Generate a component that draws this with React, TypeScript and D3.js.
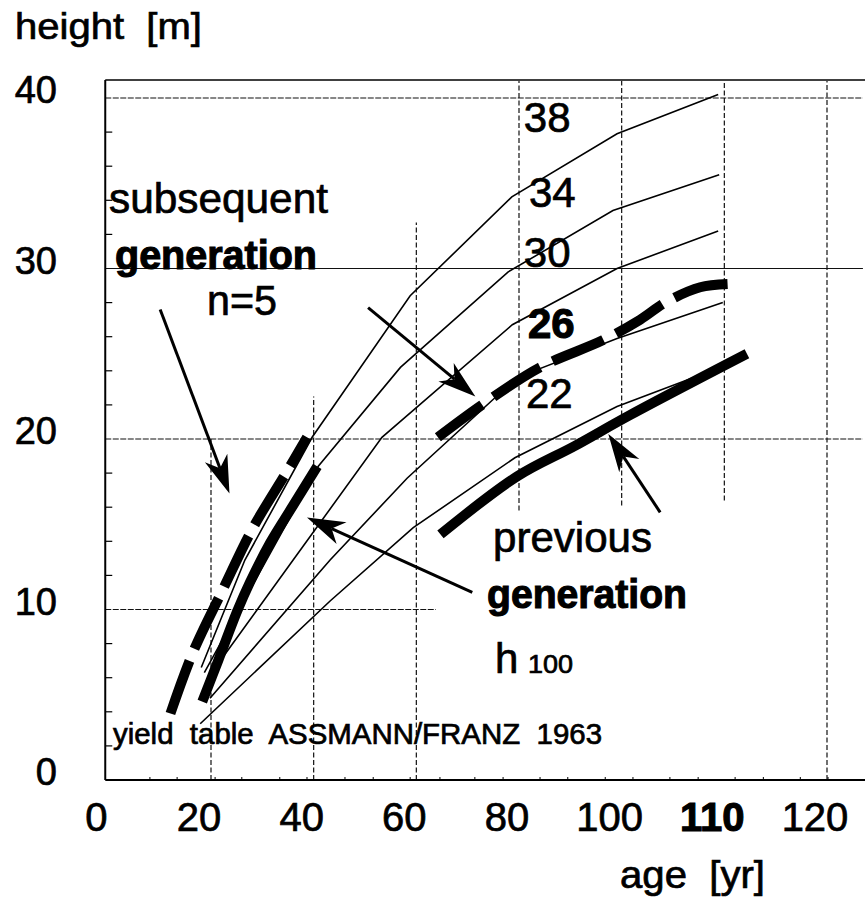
import React from "react";
import * as d3 from "d3";

// ---- data (age [yr], height [m]) ----
const SI38: [number, number][] = [[18.1, 6.6], [26.6, 12.9], [39.7, 20.1], [58.8, 28.4], [78.6, 34.2], [99.1, 37.9], [118.8, 40.2]];
const SI34: [number, number][] = [[18.7, 6.3], [40.9, 18.4], [56.9, 24.2], [77.9, 29.8], [98.3, 33.4], [119.0, 35.5]];
const SI30: [number, number][] = [[19.2, 5.9], [22.3, 7.2], [36.0, 12.9], [53.3, 20.1], [78.7, 26.7], [99.1, 30.0], [118.8, 32.2]];
const SI26: [number, number][] = [[19.8, 4.8], [43.2, 12.9], [58.2, 17.7], [79.6, 23.6], [99.1, 25.9], [119.7, 28.0]];
const SI22: [number, number][] = [[17.9, 3.3], [43.2, 10.5], [59.4, 14.8], [79.2, 18.9], [99.1, 21.9], [119.2, 24.2]];

const SUBSEQ_YOUNG: [number, number][] = [[12.1, 3.9], [16.5, 7.5], [22.2, 11.1], [28.2, 14.8], [35.0, 18.2], [38.7, 20.1]];
const PREV_YOUNG: [number, number][] = [[18.3, 4.6], [21.4, 7.0], [25.1, 9.9], [27.6, 11.6], [31.5, 13.9], [36.0, 16.1], [40.7, 18.4]];
const SUBSEQ_OLD: [number, number][] = [[64.2, 20.1], [72.8, 22.0], [84.1, 24.2], [96.4, 25.8], [103.6, 27.0], [108.5, 28.0], [115.3, 28.9], [121.1, 29.1]];
const PREV_OLD: [number, number][] = [[64.7, 14.4], [79.6, 17.8], [90.9, 19.6], [101.6, 21.4], [124.4, 25.0]];

const SITE_LABELS = ["38", "34", "30", "26", "22"];
const SITE_LABEL_POS: [number, number][] = [[85.5, 38.0], [86.5, 33.6], [85.5, 30.1], [86.3, 25.9], [85.9, 21.8]];

const AGE_TICK_POS = [0, 20, 40, 60, 80, 100, 120, 140];
const AGE_TICK_LABELS = ["0", "20", "40", "60", "80", "100", "110", "120"];
const HEIGHT_TICKS = [0, 10, 20, 30, 40];
const HEIGHT_MINOR = [2, 4, 6, 8, 12, 14, 16, 18, 22, 24, 26, 28, 32, 34, 36, 38];
const AGE_MINOR = [8.1, 13.4, 20.8, 26.0, 33.4, 38.7, 46.1, 51.6, 58.8, 64.6, 71.4, 76.9, 84.1, 89.5, 96.8, 102.2, 109.4, 114.9, 122.1, 127.6, 134.8, 140.2];

// gridlines: [value, from, to]
const V_GRID: [number, number, number][] = [[20, 0, 20], [40, 0, 22.5], [60, 0, 32.7], [80, 15.8, 41], [100, 16.1, 41], [120, 16.4, 41], [140, 0, 41]];
const H_GRID: [number, number, number][] = [[10, -0.6, 63.8], [20, -0.6, 147], [30, -0.6, 147], [40, -0.6, 147]];

// arrows: [fromAge, fromH, tipAge, tipH]
const ARROWS: [number, number, number, number][] = [
  [10.1, 27.6, 23.6, 16.8],
  [50.6, 27.7, 71.5, 22.5],
  [70.9, 11.0, 38.7, 15.4],
  [107.5, 15.7, 97.4, 20.3],
];

const FONT = "'Liberation Sans', Arial, Helvetica, sans-serif";
const TS = { stroke: "#000", strokeWidth: 0.7 };
const TB = { stroke: "#000", strokeWidth: 1.1 };

export default function App() {
  const x = d3.scaleLinear().domain([20, 140]).range([211, 827]);
  const y = d3.scaleLinear().domain([0, 40]).range([780, 98]);
  const x0 = x(-0.6);
  const xEnd = 865;
  const yTop = y(41.06);

  const thin = d3.line<[number, number]>().x((d) => x(d[0])).y((d) => y(d[1]));
  const smooth = d3
    .line<[number, number]>()
    .x((d) => x(d[0]))
    .y((d) => y(d[1]))
    .curve(d3.curveCatmullRom.alpha(0.5));

  const arrowHead = (a: [number, number, number, number]) => {
    const [fa, fh, ta, th] = a;
    const x1 = x(fa), y1 = y(fh), x2 = x(ta), y2 = y(th);
    const dx = x2 - x1, dy = y2 - y1;
    const L = Math.hypot(dx, dy);
    const ux = dx / L, uy = dy / L;
    const px = -uy, py = ux;
    const len = 38, hw = 12, notch = 27;
    const bx = x2 - ux * len, by = y2 - uy * len;
    const nx = x2 - ux * notch, ny = y2 - uy * notch;
    return {
      line: [x1, y1, nx, ny],
      pts: `${x2},${y2} ${bx + px * hw},${by + py * hw} ${nx},${ny} ${bx - px * hw},${by - py * hw}`,
    };
  };

  const sites = [SI38, SI34, SI30, SI26, SI22];

  return (
    <svg
      width={865}
      height={902}
      style={{ position: "absolute", left: 0, top: 0, display: "block", background: "#fff" }}
      fontFamily={FONT}
    >
      <rect x={0} y={0} width={865} height={902} fill="#fff" />
      {/* frame */}
      <line x1={x0} y1={yTop} x2={xEnd} y2={yTop} stroke="#000" strokeWidth={1.5} />
      {/* horizontal gridlines */}
      {H_GRID.map(([v, a, b], i) => (
        <line
          key={"h" + i}
          x1={x(a)}
          x2={x(b)}
          y1={y(v)}
          y2={y(v)}
          stroke="#111"
          strokeWidth={1.2}
          strokeDasharray={v === 30 ? undefined : "6,1.5"}
        />
      ))}
      {/* vertical gridlines */}
      {V_GRID.map(([v, a, b], i) => (
        <line
          key={"v" + i}
          x1={x(v)}
          x2={x(v)}
          y1={y(a)}
          y2={y(b)}
          stroke="#111"
          strokeWidth={1.2}
          strokeDasharray="5,2.5"
        />
      ))}
      {/* axes */}
      <line x1={x0} y1={yTop} x2={x0} y2={y(0)} stroke="#000" strokeWidth={2} />
      <line x1={x0} y1={y(0)} x2={xEnd} y2={y(0)} stroke="#000" strokeWidth={2} />
      {HEIGHT_MINOR.map((v) => (
        <line key={"ym" + v} x1={x0} x2={x0 + 7} y1={y(v)} y2={y(v)} stroke="#000" strokeWidth={1.2} />
      ))}
      {AGE_MINOR.map((v) => (
        <line key={"xm" + v} x1={x(v)} x2={x(v)} y1={y(0)} y2={y(0) - 3} stroke="#000" strokeWidth={1} />
      ))}
      {/* yield table curves */}
      {sites.map((s, i) => (
        <path key={"s" + i} d={thin(s) || ""} fill="none" stroke="#000" strokeWidth={1.6} />
      ))}
      {/* thick curves */}
      <path d={smooth(PREV_YOUNG) || ""} fill="none" stroke="#000" strokeWidth={10} />
      <path d={smooth(PREV_OLD) || ""} fill="none" stroke="#000" strokeWidth={10} />
      <path d={smooth(SUBSEQ_YOUNG) || ""} fill="none" stroke="#000" strokeWidth={10} strokeDasharray="56,13" />
      <path d={smooth(SUBSEQ_OLD) || ""} fill="none" stroke="#000" strokeWidth={10} strokeDasharray="55,14" />
      {/* site labels */}
      {SITE_LABELS.map((t, i) => (
        <text
          key={"sl" + i}
          x={x(SITE_LABEL_POS[i][0])}
          y={y(SITE_LABEL_POS[i][1])}
          fontSize={42}
          fontWeight={t === "26" ? "bold" : "normal"}
          {...(t === "26" ? TB : TS)}
          textAnchor="middle"
          fill="#000"
        >
          {t}
        </text>
      ))}
      {/* arrows */}
      {ARROWS.map((a, i) => {
        const h = arrowHead(a);
        return (
          <g key={"a" + i}>
            <line x1={h.line[0]} y1={h.line[1]} x2={h.line[2]} y2={h.line[3]} stroke="#000" strokeWidth={3} />
            <polygon points={h.pts} fill="#000" />
          </g>
        );
      })}
      {/* y tick labels */}
      {HEIGHT_TICKS.map((v) => (
        <text key={"yt" + v} x={57} y={y(v) + 5} fontSize={38} textAnchor="end" fill="#000" {...TS}>
          {v}
        </text>
      ))}
      {/* x tick labels */}
      {AGE_TICK_POS.map((v, i) => (
        <text
          key={"xt" + v}
          x={x(v) - 12}
          y={831}
          fontSize={40}
          textAnchor="middle"
          fontWeight={AGE_TICK_LABELS[i] === "110" ? "bold" : "normal"}
          fill="#000"
          {...(AGE_TICK_LABELS[i] === "110" ? TB : TS)}
        >
          {AGE_TICK_LABELS[i]}
        </text>
      ))}
      {/* axis titles and annotations */}
      <text x={15} y={39} fontSize={37} textLength={187} lengthAdjust="spacingAndGlyphs" style={{ whiteSpace: "pre" }} {...TS}>
        {"height  [m]"}
      </text>
      <text x={620} y={888} fontSize={38} textLength={145} lengthAdjust="spacingAndGlyphs" style={{ whiteSpace: "pre" }} {...TS}>
        {"age  [yr]"}
      </text>
      <text x={109} y={213} fontSize={42} textLength={219} lengthAdjust="spacingAndGlyphs" {...TS}>subsequent</text>
      <text x={115} y={269} fontSize={40} fontWeight="bold" textLength={202} lengthAdjust="spacingAndGlyphs" {...TB}>
        generation
      </text>
      <text x={207} y={315} fontSize={42} textLength={70} lengthAdjust="spacingAndGlyphs" {...TS}>n=5</text>
      <text x={493} y={552} fontSize={42} textLength={159} lengthAdjust="spacingAndGlyphs" {...TS}>previous</text>
      <text x={487} y={608} fontSize={40} fontWeight="bold" textLength={200} lengthAdjust="spacingAndGlyphs" {...TB}>
        generation
      </text>
      <text x={495} y={673} fontSize={42} {...TS}>h</text>
      <text x={528} y={673} fontSize={25} textLength={45} lengthAdjust="spacingAndGlyphs" {...TS}>100</text>
      <text x={113} y={744} fontSize={29} textLength={489} lengthAdjust="spacingAndGlyphs" style={{ whiteSpace: "pre" }} {...TS}>
        {"yield  table  ASSMANN/FRANZ  1963"}
      </text>
    </svg>
  );
}
